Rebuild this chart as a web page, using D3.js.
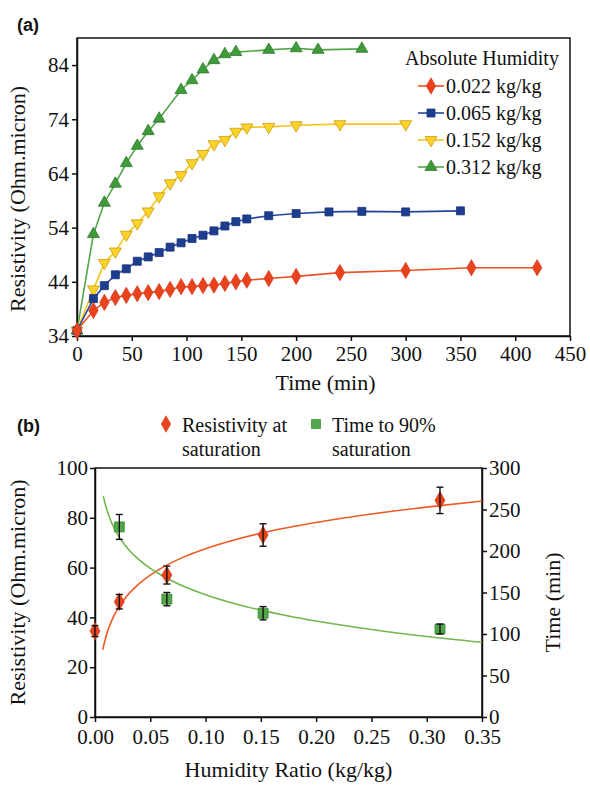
<!DOCTYPE html>
<html>
<head>
<meta charset="utf-8">
<script src="https://cdn.jsdelivr.net/npm/d3@7"></script>
<style>
  body { margin: 0; background: #fff; }
  text { font-family: "Liberation Serif", "Times New Roman", serif; fill: #111; }
  .axis path, .axis line { stroke: #111; stroke-width: 1.5px; }
  .axis text { font-family: "Liberation Serif", "Times New Roman", serif; font-size: 21px; fill: #111; }
</style>
</head>
<body>
<script>
// ---- panel (a) data: resistivity vs time ----
var humidityLabels = ["0.022 kg/kg", "0.065 kg/kg", "0.152 kg/kg", "0.312 kg/kg"];

var timeRed = [0, 15, 25, 35, 45, 55, 65, 75, 85, 95, 105, 115, 125, 135, 145, 155, 175, 200, 240, 300, 360, 420];
var resRed = [35, 38.7, 40.2, 41.1, 41.5, 41.8, 42.0, 42.2, 42.6, 43.1, 43.1, 43.3, 43.4, 43.7, 44.0, 44.3, 44.6, 45.0, 45.7, 46.1, 46.6, 46.6];

var timeBlue = [0, 15, 25, 35, 45, 55, 65, 75, 85, 95, 105, 115, 125, 135, 145, 155, 175, 200, 230, 260, 300, 350];
var resBlue = [35, 40.9, 43.3, 45.3, 46.4, 47.8, 48.6, 49.4, 50.4, 51.2, 52.0, 52.6, 53.4, 54.3, 55.1, 55.6, 56.2, 56.6, 56.9, 57.0, 56.9, 57.1];

var timeYellow = [0, 15, 25, 35, 45, 55, 65, 75, 85, 95, 105, 115, 125, 135, 145, 155, 175, 200, 240, 300];
var resYellow = [35, 42.6, 47.5, 49.6, 52.7, 54.8, 57.0, 59.8, 62.2, 63.7, 65.9, 67.6, 69.4, 70.2, 71.7, 72.5, 72.6, 72.9, 73.1, 73.1];

var timeGreen = [0, 15, 25, 35, 45, 55, 65, 75, 95, 105, 115, 125, 135, 145, 175, 200, 220, 260];
var resGreen = [35, 52.8, 58.6, 62.1, 65.9, 69.1, 71.8, 74.1, 79.4, 81.2, 83.2, 84.9, 86.0, 86.4, 86.8, 87.1, 86.8, 87.0];

var resTicksA = [34, 44, 54, 64, 74, 84];
var timeTicksA = [0, 50, 100, 150, 200, 250, 300, 350, 400, 450];

// ---- panel (b) data: saturation vs humidity ratio ----
var humidity = [0, 0.022, 0.065, 0.152, 0.312];
var satRes = [34.5, 46.3, 57.0, 73.1, 87.0];
var satResErr = [2.2, 2.9, 3.6, 4.5, 5.3];

var humidityT = [0.022, 0.065, 0.152, 0.312];
var satTime = [229, 142, 125, 106];
var satTimeErr = [15, 8, 8, 6];

// fitted trend lines
var fitResX = [0.007, 0.010, 0.015, 0.02, 0.03, 0.04, 0.05, 0.06, 0.08, 0.10, 0.125, 0.15, 0.175, 0.20, 0.25, 0.30, 0.35];
var fitResY = [27, 32.4, 38.6, 43.0, 49.2, 53.6, 57.0, 59.8, 64.2, 67.6, 71.0, 73.8, 76.1, 78.1, 81.5, 84.3, 86.7];
var fitTimeX = [0.0075, 0.010, 0.015, 0.02, 0.03, 0.04, 0.05, 0.06, 0.08, 0.10, 0.125, 0.15, 0.175, 0.20, 0.25, 0.30, 0.35];
var fitTimeY = [266, 253, 234, 221, 202.5, 189.3, 179.1, 170.8, 157.6, 147.4, 137.1, 128.8, 121.7, 115.6, 105.4, 97.0, 90];

var resTicksB = [0, 20, 40, 60, 80, 100];
var timeTicksB = [0, 50, 100, 150, 200, 250, 300];
var humTicks = [0, 0.05, 0.10, 0.15, 0.20, 0.25, 0.30, 0.35];

var svg = d3.select("body").append("svg")
    .attr("width", 590)
    .attr("height", 785);

// ================= panel (a) =================
var boxA = {left: 77, top: 38, right: 570, bottom: 336};

var xA = d3.scaleLinear().domain([0, 450]).range([boxA.left, boxA.right]);
var yA = d3.scaleLinear().domain([34, 89]).range([boxA.bottom, boxA.top]);

svg.append("text")
    .attr("x", 17).attr("y", 31)
    .style("font-family", "Liberation Sans, Arial, sans-serif")
    .style("font-weight", "bold")
    .style("font-size", "18px")
    .text("(a)");

svg.append("g")
    .attr("class", "axis")
    .attr("transform", "translate(" + boxA.left + ",0)")
    .call(d3.axisLeft(yA).tickValues(resTicksA).tickSize(5).tickSizeOuter(0).tickPadding(3));

svg.append("g")
    .attr("class", "axis")
    .attr("transform", "translate(0," + boxA.bottom + ")")
    .call(d3.axisBottom(xA).tickValues(timeTicksA).tickSize(5).tickSizeOuter(0).tickPadding(5));

svg.append("rect")
    .attr("x", boxA.left).attr("y", boxA.top)
    .attr("width", boxA.right - boxA.left)
    .attr("height", boxA.bottom - boxA.top)
    .attr("fill", "none")
    .attr("stroke", "#111")
    .attr("stroke-width", 1.5);

var seriesA = [
    {t: timeRed, r: resRed, line: "#ea5226", fill: "#e8431d", stroke: "#d8381a", sym: d3.symbolDiamond, size: 75, rot: 0},
    {t: timeBlue, r: resBlue, line: "#27469a", fill: "#1d3d8f", stroke: "#18347c", sym: d3.symbolSquare, size: 64, rot: 0},
    {t: timeYellow, r: resYellow, line: "#f6c51c", fill: "#fdd32a", stroke: "#c99a12", sym: d3.symbolTriangle, size: 62, rot: 180},
    {t: timeGreen, r: resGreen, line: "#54a64a", fill: "#3f9a3a", stroke: "#2c7a2a", sym: d3.symbolTriangle, size: 62, rot: 0}
];

var lineA = d3.line()
    .x(function(d) { return xA(d[0]); })
    .y(function(d) { return yA(d[1]); });

// draw green first so the red series sits on top, as in the original
seriesA.slice().reverse().forEach(function(s) {
    var pts = s.t.map(function(t, i) { return [t, s.r[i]]; });
    svg.append("path")
        .datum(pts)
        .attr("fill", "none")
        .attr("stroke", s.line)
        .attr("stroke-width", 1.6)
        .attr("d", lineA);
    svg.selectAll(null)
        .data(pts)
        .enter().append("path")
        .attr("d", d3.symbol().type(s.sym).size(s.size))
        .attr("transform", function(d) {
            return "translate(" + xA(d[0]) + "," + yA(d[1]) + ") rotate(" + s.rot + ")";
        })
        .attr("fill", s.fill)
        .attr("stroke", s.stroke)
        .attr("stroke-width", 0.8);
});

// legend (a)
svg.append("text")
    .attr("x", 405).attr("y", 65)
    .style("font-size", "20px")
    .text("Absolute Humidity");

seriesA.forEach(function(s, i) {
    var cy = 86 + i * 27;
    svg.append("line")
        .attr("x1", 418).attr("x2", 444)
        .attr("y1", cy).attr("y2", cy)
        .attr("stroke", s.line)
        .attr("stroke-width", 1.6);
    svg.append("path")
        .attr("d", d3.symbol().type(s.sym).size(s.size))
        .attr("transform", "translate(431," + cy + ") rotate(" + s.rot + ")")
        .attr("fill", s.fill)
        .attr("stroke", s.stroke)
        .attr("stroke-width", 0.8);
    svg.append("text")
        .attr("x", 446).attr("y", cy + 7)
        .style("font-size", "20px")
        .text(humidityLabels[i]);
});

// axis titles (a)
svg.append("text")
    .attr("x", (boxA.left + boxA.right) / 2 + 2)
    .attr("y", 390)
    .attr("text-anchor", "middle")
    .style("font-size", "22px")
    .text("Time (min)");

svg.append("text")
    .attr("transform", "translate(25," + ((boxA.top + boxA.bottom) / 2 + 12) + ") rotate(-90)")
    .attr("text-anchor", "middle")
    .style("font-size", "22px")
    .text("Resistivity (Ohm.micron)");

// ================= panel (b) =================
var boxB = {left: 95, top: 468, right: 482, bottom: 717};

var xB = d3.scaleLinear().domain([0, 0.35]).range([boxB.left, boxB.right]);
var yB = d3.scaleLinear().domain([0, 100]).range([boxB.bottom, boxB.top]);
var yT = d3.scaleLinear().domain([0, 300]).range([boxB.bottom, boxB.top]);

svg.append("text")
    .attr("x", 17).attr("y", 432)
    .style("font-family", "Liberation Sans, Arial, sans-serif")
    .style("font-weight", "bold")
    .style("font-size", "18px")
    .text("(b)");

svg.append("g")
    .attr("class", "axis")
    .attr("transform", "translate(" + boxB.left + ",0)")
    .call(d3.axisLeft(yB).tickValues(resTicksB).tickSize(5).tickSizeOuter(0).tickPadding(2));

svg.append("g")
    .attr("class", "axis")
    .attr("transform", "translate(" + boxB.right + ",0)")
    .call(d3.axisRight(yT).tickValues(timeTicksB).tickSize(5).tickSizeOuter(0).tickPadding(2));

svg.append("g")
    .attr("class", "axis")
    .attr("transform", "translate(0," + boxB.bottom + ")")
    .call(d3.axisBottom(xB).tickValues(humTicks).tickFormat(d3.format(".2f")).tickSize(5).tickSizeOuter(0).tickPadding(7));

svg.append("rect")
    .attr("x", boxB.left).attr("y", boxB.top)
    .attr("width", boxB.right - boxB.left)
    .attr("height", boxB.bottom - boxB.top)
    .attr("fill", "none")
    .attr("stroke", "#111")
    .attr("stroke-width", 1.5);

// trend lines
svg.append("path")
    .datum(fitResX.map(function(x, i) { return [x, fitResY[i]]; }))
    .attr("fill", "none")
    .attr("stroke", "#ee5a24")
    .attr("stroke-width", 1.6)
    .attr("d", d3.line().curve(d3.curveMonotoneX)
        .x(function(d) { return xB(d[0]); })
        .y(function(d) { return yB(d[1]); }));

svg.append("path")
    .datum(fitTimeX.map(function(x, i) { return [x, fitTimeY[i]]; }))
    .attr("fill", "none")
    .attr("stroke", "#72b64c")
    .attr("stroke-width", 1.6)
    .attr("d", d3.line().curve(d3.curveMonotoneX)
        .x(function(d) { return xB(d[0]); })
        .y(function(d) { return yT(d[1]); }));

// resistivity at saturation
var resPts = humidity.map(function(h, i) { return {x: h, y: satRes[i], e: satResErr[i]}; });
svg.selectAll(null)
    .data(resPts)
    .enter().append("path")
    .attr("d", d3.symbol().type(d3.symbolDiamond).size(90))
    .attr("transform", function(d) { return "translate(" + xB(d.x) + "," + yB(d.y) + ")"; })
    .attr("fill", "#e8431d")
    .attr("stroke", "#cc3518")
    .attr("stroke-width", 0.6);

// time to 90% saturation
var timePts = humidityT.map(function(h, i) { return {x: h, y: satTime[i], e: satTimeErr[i]}; });
svg.selectAll(null)
    .data(timePts)
    .enter().append("path")
    .attr("d", d3.symbol().type(d3.symbolSquare).size(100))
    .attr("transform", function(d) { return "translate(" + xB(d.x) + "," + yT(d.y) + ")"; })
    .attr("fill", "#52a548")
    .attr("stroke", "#3a8a34")
    .attr("stroke-width", 0.8);

// error bars
function errorBars(pts, yScale) {
    var g = svg.append("g").attr("stroke", "#111").attr("stroke-width", 1.4);
    pts.forEach(function(d) {
        var x = xB(d.x), y1 = yScale(d.y - d.e), y2 = yScale(d.y + d.e);
        g.append("line").attr("x1", x).attr("x2", x).attr("y1", y1).attr("y2", y2);
        g.append("line").attr("x1", x - 3.5).attr("x2", x + 3.5).attr("y1", y1).attr("y2", y1);
        g.append("line").attr("x1", x - 3.5).attr("x2", x + 3.5).attr("y1", y2).attr("y2", y2);
    });
}
errorBars(resPts, yB);
errorBars(timePts, yT);

// legend (b)
svg.append("path")
    .attr("d", d3.symbol().type(d3.symbolDiamond).size(90))
    .attr("transform", "translate(166,424)")
    .attr("fill", "#e8431d");
svg.append("text").attr("x", 182).attr("y", 432).style("font-size", "20px").text("Resistivity at");
svg.append("text").attr("x", 182).attr("y", 456).style("font-size", "20px").text("saturation");

svg.append("path")
    .attr("d", d3.symbol().type(d3.symbolSquare).size(100))
    .attr("transform", "translate(316,424)")
    .attr("fill", "#52a548");
svg.append("text").attr("x", 332).attr("y", 432).style("font-size", "20px").text("Time to 90%");
svg.append("text").attr("x", 332).attr("y", 456).style("font-size", "20px").text("saturation");

// axis titles (b)
svg.append("text")
    .attr("x", (boxB.left + boxB.right) / 2)
    .attr("y", 777)
    .attr("text-anchor", "middle")
    .style("font-size", "22px")
    .text("Humidity Ratio (kg/kg)");

svg.append("text")
    .attr("transform", "translate(25," + ((boxB.top + boxB.bottom) / 2) + ") rotate(-90)")
    .attr("text-anchor", "middle")
    .style("font-size", "22px")
    .text("Resistivity (Ohm.micron)");

svg.append("text")
    .attr("transform", "translate(560," + ((boxB.top + boxB.bottom) / 2 + 10) + ") rotate(-90)")
    .attr("text-anchor", "middle")
    .style("font-size", "22px")
    .text("Time (min)");
</script>
</body>
</html>
